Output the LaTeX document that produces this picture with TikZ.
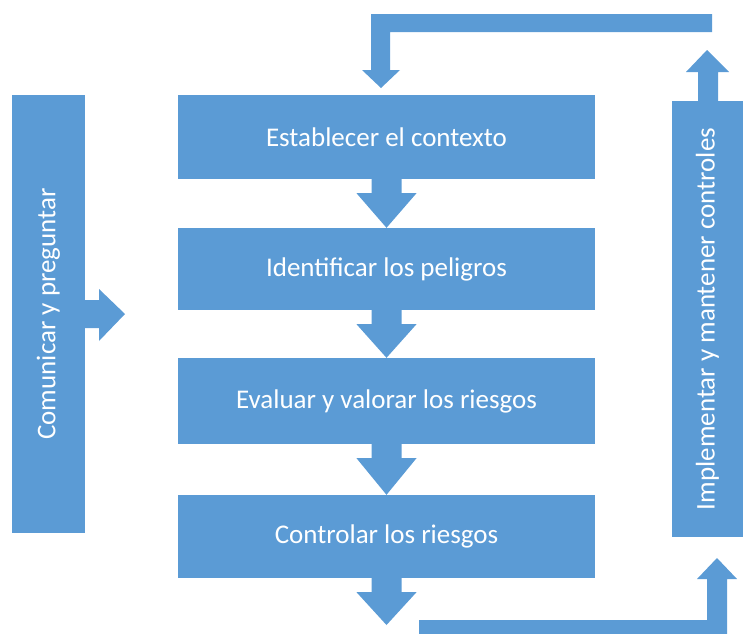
\documentclass[tikz,border=0pt]{standalone}
\usepackage{fontspec}
\setmainfont{Carlito}
\usetikzlibrary{calc}
\definecolor{boxblue}{HTML}{5B9BD5}
% block arrow pointing down from the bottom of #1 to #2
\newcommand\blockdown[2]{%
  \fill[boxblue] ($(#1.south)+(-15,0)$) -- ($(#1.south)+(-15,14)$) -- ($(#1.south)+(-30,14)$)
    -- (#2) -- ($(#1.south)+(30,14)$) -- ($(#1.south)+(15,14)$) -- ($(#1.south)+(15,0)$) -- cycle;}
\begin{document}
\begin{tikzpicture}[x=1pt,y=-1pt]
		\tikzstyle{every node}+=[inner sep=0pt]
		\tikzstyle{stepbox}=[fill=boxblue, text=white, font=\fontsize{27}{32}\selectfont]
		\useasboundingbox (0,0) rectangle (745,633);
		% steps
		\node [stepbox, minimum width=417pt, minimum height=84pt] (ctx) at (386.5,137) {Establecer el contexto};
		\node [stepbox, minimum width=417pt, minimum height=82pt] (haz) at (386.5,269) {Identificar los peligros};
		\node [stepbox, minimum width=417pt, minimum height=86pt] (eval) at (386.5,401) {Evaluar y valorar los riesgos};
		\node [stepbox, minimum width=417pt, minimum height=83pt] (ctrl) at (386.5,536.5) {Controlar los riesgos};
		% side bars
		\node [stepbox, rotate=90, minimum width=438pt, minimum height=73pt] (comm) at (48.5,314) {Comunicar y preguntar};
		\node [stepbox, rotate=90, minimum width=436pt, minimum height=71pt] (impl) at (707.5,319) {Implementar y mantener controles};
		% arrows between steps
		\blockdown{ctx}{haz.north}
		\blockdown{haz}{eval.north}
		\blockdown{eval}{ctrl.north}
		\coordinate (out) at (386.5,625);
		\blockdown{ctrl}{out}
		% from the left bar
		\coordinate (in) at (125,314);
		\fill [boxblue] (85,300) -- (99,300) -- (99,289) -- (in) -- (99,341) -- (99,328) -- (85,328) -- cycle;
		% up from the right bar
		\coordinate (up) at (707,50);
		\fill [boxblue] (698,101) -- (698,72) -- (686,72) -- (up) -- (729,72) -- (718,72) -- (718,101) -- cycle;
		% loop back over the top
		\coordinate (back) at (381,88);
		\fill [boxblue] (712,14) -- (712,32) -- (390,32) -- (390,70) -- (400,70) -- (back) -- (362,70) -- (371,70) -- (371,14) -- cycle;
		% loop up at the bottom
		\coordinate (rise) at (717,558);
		\fill [boxblue] (419,620) -- (707,620) -- (707,579) -- (697,579) -- (rise) -- (737,579) -- (727,579) -- (727,640) -- (419,640) -- cycle;
\end{tikzpicture}
\end{document}
